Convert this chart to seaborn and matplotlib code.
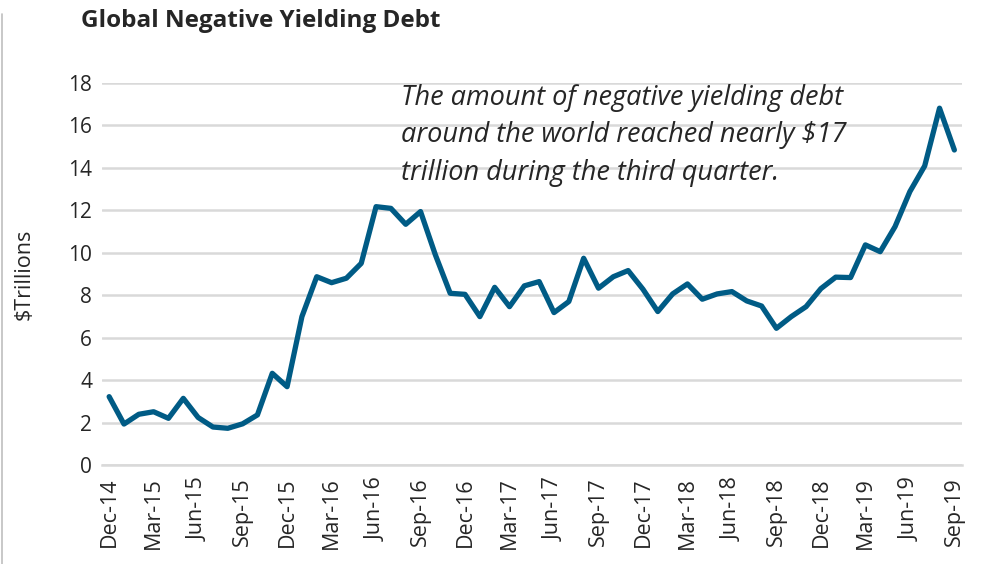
import numpy as np
import pandas as pd
import matplotlib.pyplot as plt
import seaborn as sns
from matplotlib.lines import Line2D

# Monthly values, Dec-14 .. Sep-19 ($ trillions)
months = pd.date_range("2014-12-01", "2019-09-01", freq="MS")
debt = [3.22, 1.93, 2.39, 2.51, 2.20, 3.14, 2.24, 1.79, 1.73, 1.94,
        2.36, 4.32, 3.69, 6.99, 8.87, 8.59, 8.80, 9.50, 12.17, 12.09,
        11.34, 11.94, 9.90, 8.09, 8.04, 6.99, 8.37, 7.46, 8.44, 8.64,
        7.18, 7.70, 9.74, 8.33, 8.87, 9.16, 8.28, 7.23, 8.06, 8.53,
        7.81, 8.06, 8.17, 7.73, 7.49, 6.44, 6.99, 7.46, 8.31, 8.85,
        8.83, 10.37, 10.05, 11.23, 12.88, 14.09, 16.81, 14.84]
month_labels = [m.strftime("%b-%y") for m in months]
tick_idx = list(range(0, len(debt), 3))

title = "Global Negative Yielding Debt"
note = ("The amount of negative yielding debt\n"
        "around the world reached nearly $17\n"
        "trillion during the third quarter.")

df = pd.DataFrame({"idx": np.arange(len(debt)), "Debt": debt})

sns.set_style("white")
plt.rcParams['font.family'] = ['Open Sans', 'DejaVu Sans']

fig = plt.figure(figsize=(9.82, 5.64), dpi=100)
ax = fig.add_axes([0.1036, 0.1755, 0.8758, 0.6775])

sns.lineplot(data=df, x="idx", y="Debt", ax=ax, color="#005b85", linewidth=3.8)

# axes & grid
ax.set_xlim(-0.5, len(debt) - 0.5)
ax.set_ylim(0, 18)
ax.set_yticks(range(0, 19, 2))
ax.yaxis.grid(True, color="#d9d9d9", linewidth=1.8)
ax.set_axisbelow(True)
for s in ["top", "right", "left"]:
    ax.spines[s].set_visible(False)
ax.spines["bottom"].set_color("#d9d9d9")
ax.spines["bottom"].set_linewidth(1.8)

ax.set_xticks(tick_idx)
ax.set_xticklabels([month_labels[i] for i in tick_idx], rotation=90, fontsize=15.5)
ax.set_xticks([i - 0.5 for i in tick_idx], minor=True)
ax.tick_params(axis="x", which="major", length=0, pad=9)
ax.tick_params(axis="x", which="minor", length=7, width=1.5, color="#d9d9d9")
ax.tick_params(axis="y", length=0, labelsize=15, pad=7)

ax.set_xlabel("")
ax.set_ylabel("$Trillions", fontsize=15.5, labelpad=24)

ax.text(19.7, 17.95, note, fontsize=19.5, style="italic", va="top", ha="left",
        linespacing=1.45)

fig.text(0.082, 0.962, title, fontsize=17.5, fontweight="bold", va="center")

# thin frame line at the left edge of the image
fig.add_artist(Line2D([0.0025, 0.0025], [0, 0.976], transform=fig.transFigure,
                      color="#bfbfbf", linewidth=1.2))

plt.savefig("out.png", dpi=100)
